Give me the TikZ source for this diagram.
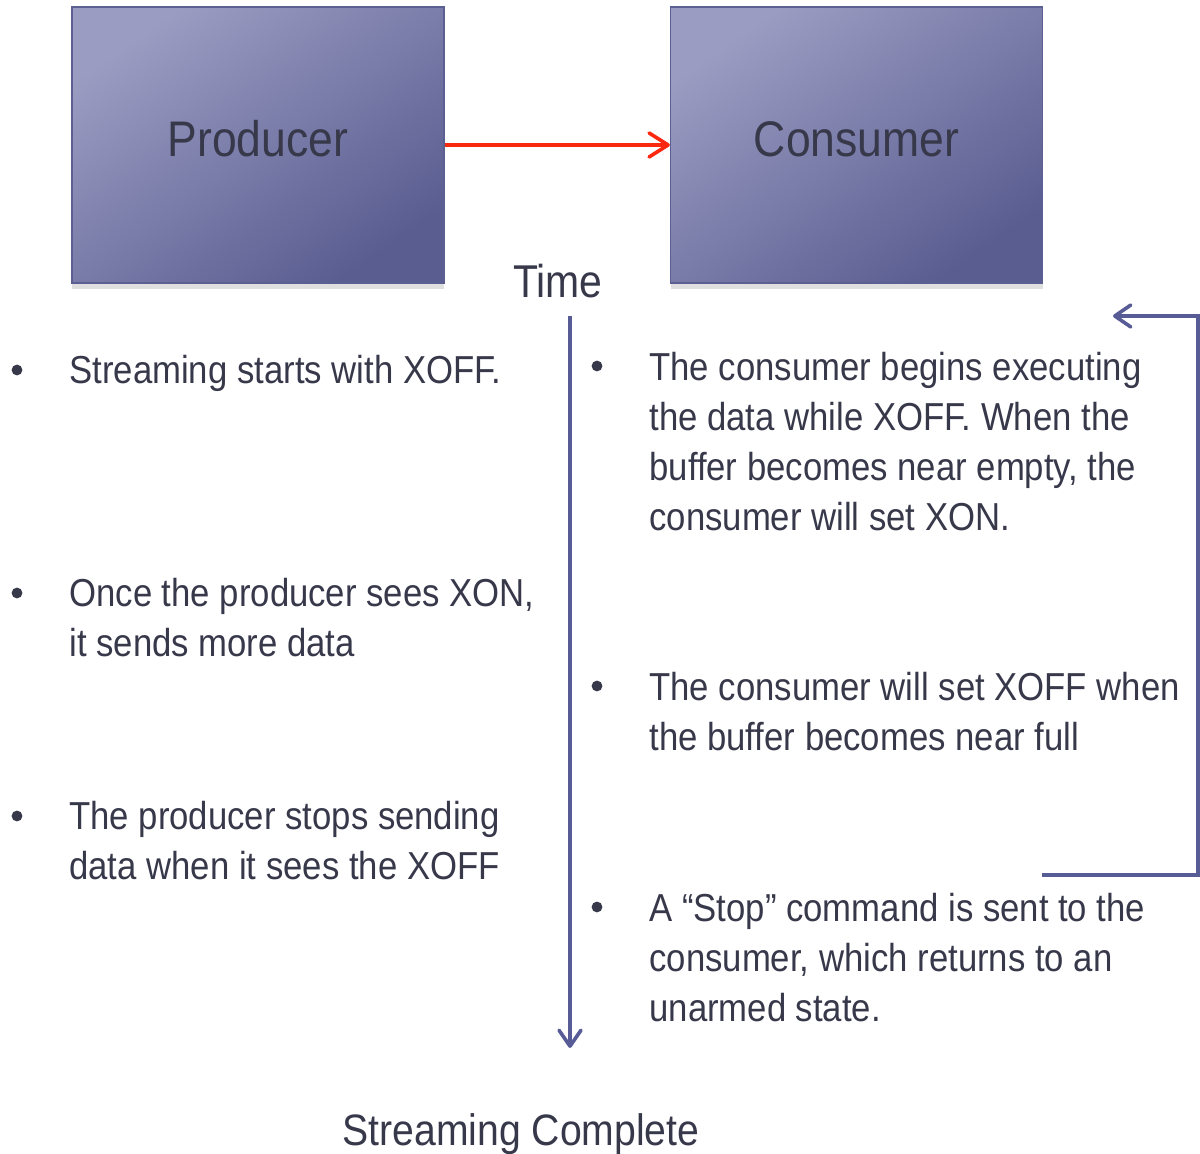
\documentclass[tikz,border=0pt]{standalone}
\usepackage{fontspec}
\setmainfont{Liberation Sans}[FakeStretch=0.89]
\usetikzlibrary{arrows.meta,shadows}

\definecolor{boxtop}{RGB}{154,156,194}
\definecolor{boxbot}{RGB}{90,93,144}
\definecolor{boxline}{RGB}{92,95,146}
\definecolor{flowblue}{RGB}{88,92,150}
\definecolor{inktext}{RGB}{55,57,75}
\definecolor{flowred}{RGB}{250,40,15}

\tikzset{
	unitbox/.style={draw=boxline, line width=0.6pt, top color=boxtop, bottom color=boxbot,
		shading angle=35, minimum width=186pt, minimum height=138pt, inner sep=0pt,
		drop shadow={shadow xshift=0pt, shadow yshift=-3pt, opacity=0.25},
		text height=18pt, text depth=6pt,
		text=inktext, font=\fontsize{25}{30}\selectfont},
	note/.style={anchor=base west, align=left, inner sep=0pt, text=inktext,
		font=\fontsize{19.5}{25}\selectfont},
	dot/.style={circle, fill=inktext, minimum size=5.4pt, inner sep=0pt},
	flow/.style={draw=flowblue, line width=1.8pt,
		-{Straight Barb[length=8pt,width=11pt,round]}},
	datalink/.style={draw=flowred, line width=1.8pt,
		-{Straight Barb[length=9.5pt,width=12pt,round]}}
}

\begin{document}
\begin{tikzpicture}[x=0.5pt,y=-0.5pt]
\useasboundingbox (0,0) rectangle (1200,1154);

\node[unitbox] (producer) at (258,145) {Producer};
\node[unitbox] (consumer) at (856.5,145) {Consumer};
\draw[datalink] (producer.east) -- (consumer.west);

\node[anchor=base, text=inktext, font=\fontsize{23}{28}\selectfont] (time) at (558,298) {Time};
\coordinate (tstart) at (570,316);
\coordinate (tend) at (570,1048);
\draw[flow] (tstart) -- (tend);

% loop back on the right
\coordinate (looptip) at (1113,316);
\coordinate (loopend) at (1042,875);
\coordinate (edge) at (1198,0);
\draw[flow] (loopend) -- (loopend -| edge) -- (looptip -| edge) -- (looptip);

\foreach \n/\y in {1/370,2/593,3/816} {
	\node[dot] (lb\n) at (17,\y) {};
}
\foreach \n/\y in {1/366,2/686,3/907} {
	\node[dot] (rb\n) at (597,\y) {};
}

% base of a note = baseline of its last line
\node[note] (left1) at (69,384) {Streaming starts with XOFF.};
\node[note] (left2) at (69,657) {Once the producer sees XON,\\it sends more data};
\node[note] (left3) at (69,879) {The producer stops sending\\data when it sees the XOFF};

\node[note] (right1) at (649,531) {The consumer begins executing\\the data while XOFF. When the\\buffer becomes near empty, the\\consumer will set XON.};
\node[note] (right2) at (649,751) {The consumer will set XOFF when\\the buffer becomes near full};
\node[note] (right3) at (649,1021) {A “Stop” command is sent to the\\consumer, which returns to an\\unarmed state.};

\node[anchor=base, text=inktext, font=\fontsize{22}{27}\selectfont] (done) at (521,1145) {Streaming Complete};
\end{tikzpicture}
\end{document}
